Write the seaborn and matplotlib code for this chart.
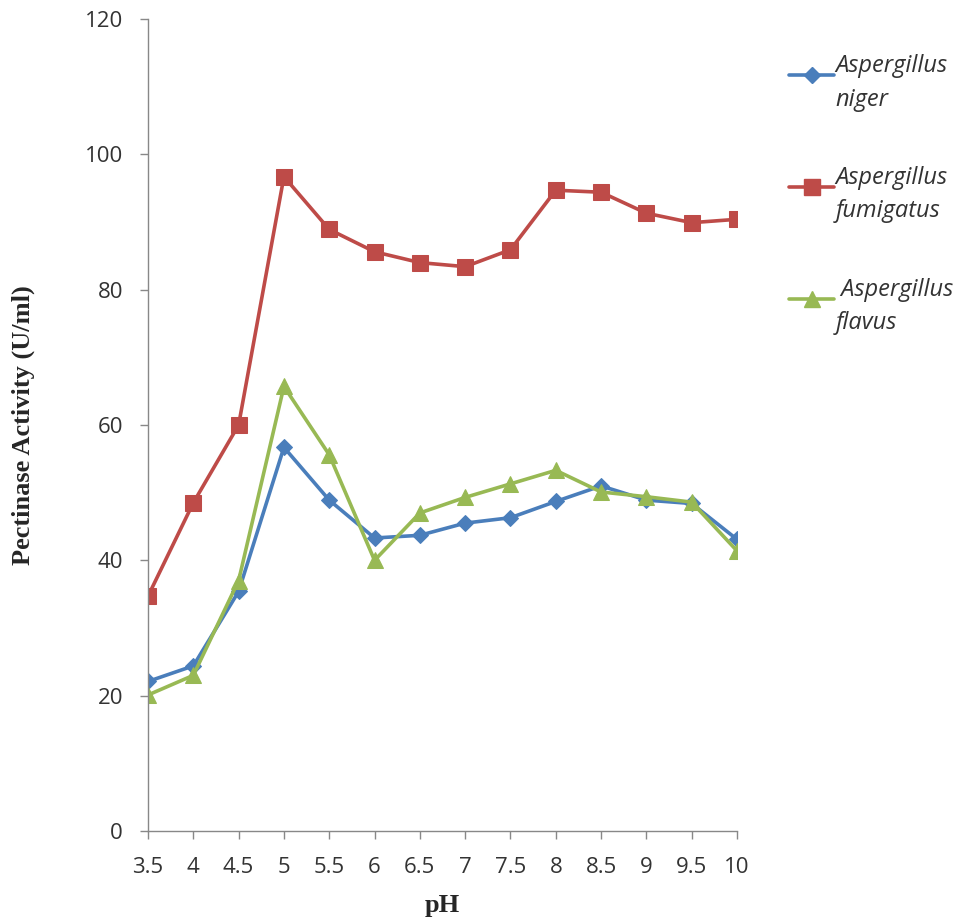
import matplotlib
matplotlib.use("Agg")
import matplotlib.pyplot as plt
import seaborn as sns
import pandas as pd
from matplotlib.lines import Line2D
from matplotlib.legend_handler import HandlerLine2D

ph = [3.5, 4, 4.5, 5, 5.5, 6, 6.5, 7, 7.5, 8, 8.5, 9, 9.5, 10]
ph_labels = ["3.5", "4", "4.5", "5", "5.5", "6", "6.5", "7", "7.5", "8", "8.5", "9", "9.5", "10"]
niger = [22.1, 24.4, 35.4, 56.7, 48.9, 43.3, 43.7, 45.5, 46.3, 48.7, 51.0, 48.9, 48.4, 43.1]
fumigatus = [34.7, 48.5, 60.0, 96.7, 88.9, 85.6, 84.0, 83.4, 85.9, 94.7, 94.4, 91.3, 89.9, 90.4]
flavus = [20.1, 23.0, 37.0, 65.7, 55.6, 40.0, 47.0, 49.3, 51.3, 53.3, 50.1, 49.4, 48.6, 41.4]
series_names = ["Aspergillus\nniger", "Aspergillus\nfumigatus", " Aspergillus\nflavus"]
y_ticks = [0, 20, 40, 60, 80, 100, 120]

colors = ["#4A7EBB", "#BE4B48", "#98B954"]
markers = ["D", "s", "^"]
msizes = [8.5, 11, 11.5]

df = pd.concat([
    pd.DataFrame({"pH": ph, "Activity": v, "Species": n})
    for v, n in zip([niger, fumigatus, flavus], series_names)
])

sns.set_style("white")
fig = plt.figure(figsize=(9.61, 9.18), dpi=100)
ax = fig.add_axes([148/961, 1-831/918, (737-148)/961, (831-19)/918])

for (name, grp), c, m, ms in zip(df.groupby("Species", sort=False), colors, markers, msizes):
    sns.lineplot(data=grp, x="pH", y="Activity", ax=ax, color=c, marker=m,
                 markersize=ms, markeredgecolor=c, linewidth=2.6, legend=False)

ax.set_xlim(3.5, 10)
ax.set_ylim(0, 120)
ax.set_xticks(ph)
ax.set_xticklabels(ph_labels)
ax.set_yticks(y_ticks)
ax.set_yticklabels([str(t) for t in y_ticks])
for s in ["top", "right"]:
    ax.spines[s].set_visible(False)
for s in ["left", "bottom"]:
    ax.spines[s].set_color("#888888")
    ax.spines[s].set_linewidth(1.0)
ax.tick_params(axis="both", which="both", direction="out", length=6, width=1,
               color="#888888", labelsize=16, labelcolor="#333333",
               bottom=True, left=True)
ax.tick_params(axis="y", pad=12)
ax.tick_params(axis="x", pad=13)
for lab in ax.get_xticklabels() + ax.get_yticklabels():
    lab.set_family("Open Sans")
ax.set_xlabel("pH", family="Liberation Serif", fontweight="bold", fontsize=19, labelpad=11)
ax.set_ylabel("Pectinase Activity (U/ml)", family="Liberation Serif", fontweight="bold",
              fontsize=19, labelpad=36)


class TopAlignedHandler(HandlerLine2D):
    def __init__(self, offset, **kw):
        super().__init__(**kw)
        self.offset = offset

    def create_artists(self, legend, orig_handle, xdescent, ydescent, width, height,
                       fontsize, trans):
        return super().create_artists(legend, orig_handle, xdescent, ydescent - self.offset,
                                      width, height, fontsize, trans)


handles = [Line2D([], [], color=c, marker=m, markersize=ms, markeredgecolor=c, linewidth=2.6)
           for c, m, ms in zip(colors, markers, msizes)]
leg = fig.legend(handles, series_names, loc="upper left",
                 bbox_to_anchor=(768/961, 1-33/918), frameon=False,
                 prop={"family": "Open Sans", "style": "italic", "size": 17},
                 handlelength=1.9, handletextpad=0.05, labelspacing=2.3,
                 handler_map={h: TopAlignedHandler(12) for h in handles})
for t in leg.get_texts():
    t.set_color("#333333")
    t.set_linespacing(1.52)

fig.savefig("out.png", dpi=100)
